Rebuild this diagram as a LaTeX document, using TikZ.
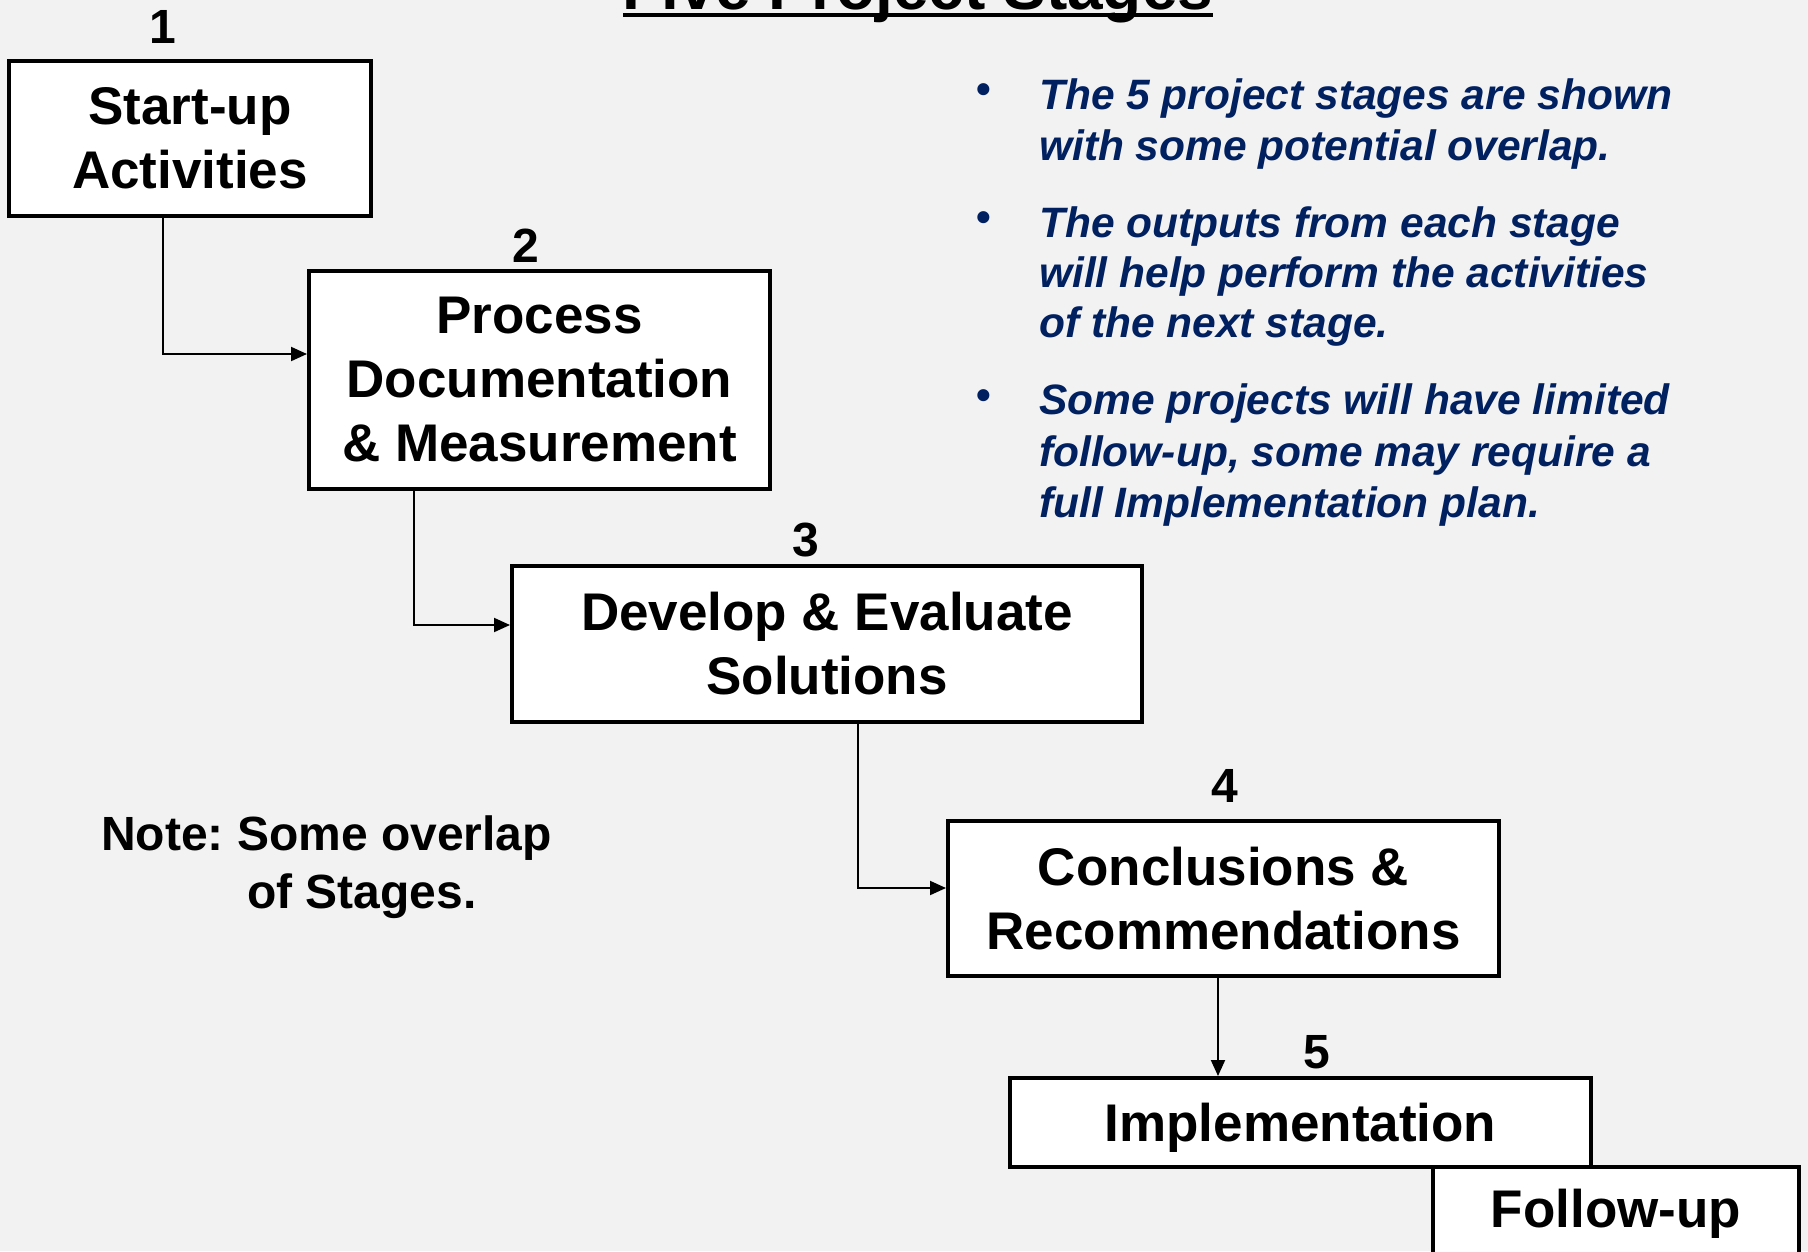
\documentclass[tikz,border=0pt]{standalone}
\usepackage{fontspec}
\setmainfont{Liberation Sans}
\usetikzlibrary{arrows.meta}
\definecolor{pagebg}{HTML}{F2F2F2}
\definecolor{navy}{HTML}{002060}
\frenchspacing
\begin{document}
\begin{tikzpicture}[x=1pt,y=-1pt,
  stagebox/.style={draw=black, line width=4pt, fill=white, align=center,
    inner sep=0pt, font=\fontsize{53}{64}\selectfont\bfseries},
  stagenum/.style={font=\fontsize{48}{58}\selectfont\bfseries, anchor=base, inner sep=0pt},
  conn/.style={draw=black, line width=2pt, -{Triangle[length=16pt,width=14pt]}},
  bline/.style={text=navy, font=\fontsize{42.5}{51}\selectfont\bfseries\itshape,
    anchor=base west, inner sep=0pt},
  bdot/.style={text=navy, font=\fontsize{42}{50}\selectfont\bfseries, inner sep=0pt},
  notetext/.style={font=\fontsize{48}{58}\selectfont\bfseries, anchor=base west, inner sep=0pt}
  ]
\useasboundingbox (0,0) rectangle (1808,1251);
\clip (0,0) rectangle (1808,1251);
\fill[pagebg] (0,0) rectangle (1808,1251);

% title, underlined
\node[anchor=base, inner sep=0pt, font=\fontsize{64}{77}\selectfont\bfseries]
  (title) at (918,9) {Five Project Stages};
\fill (title.west |- 0,13) rectangle (title.east |- 0,17);

% stage boxes
\node[stagebox, minimum width=362pt, minimum height=155pt] (s1) at (190,138.5)
  {Start-up\\Activities};
\node[stagebox, minimum width=461pt, minimum height=218pt] (s2) at (539.5,380)
  {Process\\Documentation\\\& Measurement};
\node[stagebox, minimum width=630pt, minimum height=156pt] (s3) at (827,644)
  {Develop \& Evaluate\\Solutions};
\node[stagebox, minimum width=551pt, minimum height=155pt] (s4) at (1223.5,898.5)
  {Conclusions \&\\Recommendations};
\node[stagebox, minimum width=581pt, minimum height=89pt, text depth=0pt] (s5) at (1300.5,1122.5)
  {Implementation};
\node[stagebox, minimum width=366pt, minimum height=93pt] (s6) at (1616,1213.5)
  {Follow-up};

% stage numbers
\node[stagenum] (n1) at (163,43) {1};
\node[stagenum] (n2) at (526,262) {2};
\node[stagenum] (n3) at (806,556) {3};
\node[stagenum] (n4) at (1225,802) {4};
\node[stagenum] (n5) at (1317,1068) {5};

% connectors between stages
\coordinate (k1) at (163,354);
\coordinate (k2) at (414,625);
\coordinate (k3) at (858,888);
\draw[conn] (k1 |- s1.south) -- (k1) -- (k1 -| s2.west);
\draw[conn] (k2 |- s2.south) -- (k2) -- (k2 -| s3.west);
\draw[conn] (k3 |- s3.south) -- (k3) -- (k3 -| s4.west);
\draw[conn] (s4.south -| 1218,0) -- (s5.north -| 1218,0);

% note
\node[notetext] (note1) at (101,850) {Note: Some overlap};
\node[notetext] (note2) at (247,908) {of Stages.};

% bullet list
\node[bdot] (d1) at (984,94) {\textbullet};
\node[bdot] (d2) at (984,222) {\textbullet};
\node[bdot] (d3) at (984,400) {\textbullet};
\node[bline] (b1a) at (1039,109) {The 5 project stages are shown};
\node[bline] (b1b) at (1039,160) {with some potential overlap.};
\node[bline] (b2a) at (1039,237) {The outputs from each stage};
\node[bline] (b2b) at (1039,287) {will help perform the activities};
\node[bline] (b2c) at (1039,337) {of the next stage.};
\node[bline] (b3a) at (1039,414) {Some projects will have limited};
\node[bline] (b3b) at (1039,466) {follow-up, some may require a};
\node[bline] (b3c) at (1039,517) {full Implementation plan.};
\end{tikzpicture}
\end{document}
